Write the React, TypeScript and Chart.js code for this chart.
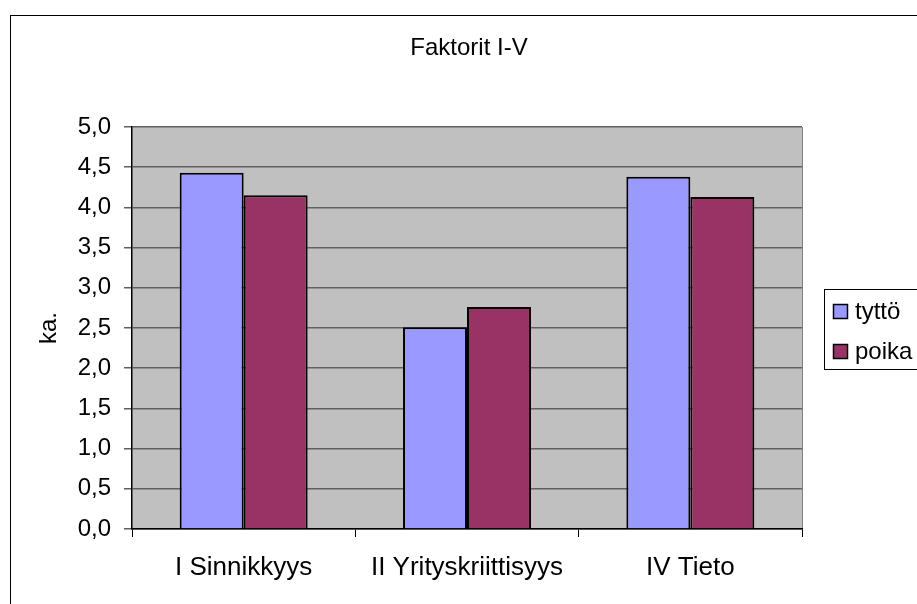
import React, { useEffect, useRef } from "react";
import { Chart, registerables } from "chart.js";

Chart.register(...registerables);

const categories = ["I Sinnikkyys", "II Yrityskriittisyys", "IV Tieto"];
const seriesNames = ["tyttö", "poika"];
const tyttoValues = [4.43, 2.51, 4.38];
const poikaValues = [4.15, 2.76, 4.13];
const seriesColors = ["#9999FF", "#993366"];
const chartTitle = "Faktorit I-V";
const yAxisTitle = "ka.";

const FONT = "'Liberation Sans', Arial, sans-serif";

const decorPlugin = {
  id: "decor",
  beforeDraw(chart: any) {
    const { ctx, chartArea } = chart;
    ctx.save();
    ctx.fillStyle = "#ffffff";
    ctx.fillRect(0, 0, chart.width, chart.height);
    ctx.strokeStyle = "#000000";
    ctx.lineWidth = 1;
    ctx.strokeRect(10.5, 15.5, chart.width + 20, chart.height + 20);
    ctx.fillStyle = "#C0C0C0";
    ctx.fillRect(chartArea.left, chartArea.top, chartArea.right - chartArea.left, chartArea.bottom - chartArea.top);
    ctx.strokeStyle = "#808080";
    ctx.beginPath();
    ctx.moveTo(chartArea.right + 0.5, chartArea.top);
    ctx.lineTo(chartArea.right + 0.5, chartArea.bottom);
    ctx.stroke();
    ctx.restore();
  },
  afterDraw(chart: any) {
    const { ctx } = chart;
    ctx.save();
    // title
    ctx.fillStyle = "#000";
    ctx.font = `24px ${FONT}`;
    ctx.textAlign = "center";
    ctx.textBaseline = "middle";
    ctx.fillText(chartTitle, 469, 48);
    // legend
    ctx.fillStyle = "#fff";
    ctx.fillRect(824.5, 289.5, 200, 80);
    ctx.strokeStyle = "#000";
    ctx.lineWidth = 1;
    ctx.strokeRect(824.5, 289.5, 200, 80);
    chart.data.datasets.forEach((ds: any, i: number) => {
      const y = 304 + i * 40;
      ctx.fillStyle = ds.backgroundColor;
      ctx.fillRect(833, y, 15, 15);
      ctx.strokeStyle = "#000";
      ctx.lineWidth = 1.5;
      ctx.strokeRect(833.5, y + 0.5, 14, 14);
      ctx.fillStyle = "#000";
      ctx.font = `24px ${FONT}`;
      ctx.textAlign = "left";
      ctx.textBaseline = "middle";
      ctx.fillText(ds.label, 855, y + 8);
    });
    ctx.restore();
  },
};

export default function App() {
  const canvasRef = useRef<HTMLCanvasElement | null>(null);

  useEffect(() => {
    if (!canvasRef.current) return;
    const chart = new Chart(canvasRef.current, {
      type: "bar",
      data: {
        labels: categories,
        datasets: [
          {
            label: seriesNames[0],
            data: tyttoValues,
            backgroundColor: seriesColors[0],
            borderColor: "#000",
            borderWidth: 2,
            categoryPercentage: 0.573,
            barPercentage: 1,
          },
          {
            label: seriesNames[1],
            data: poikaValues,
            backgroundColor: seriesColors[1],
            borderColor: "#000",
            borderWidth: 2,
            categoryPercentage: 0.573,
            barPercentage: 1,
          },
        ],
      },
      options: {
        responsive: false,
        animation: false,
        devicePixelRatio: 1,
        layout: { padding: { left: 0, top: 127, right: 115, bottom: 0 } },
        plugins: {
          legend: { display: false },
          title: { display: false },
          tooltip: { enabled: false },
        },
        scales: {
          x: {
            offset: true,
            grid: {
              offset: true,
              drawOnChartArea: false,
              drawTicks: true,
              tickLength: 8,
              color: "#000",
            },
            border: { color: "#000", width: 1.5 },
            ticks: {
              color: "#000",
              font: { family: FONT, size: 26 },
              padding: 15,
              maxRotation: 0,
              autoSkip: false,
            },
            afterFit(scale: any) {
              scale.height = 75;
            },
          },
          y: {
            min: 0,
            max: 5,
            grid: {
              color: "#606060",
              tickLength: 8,
              lineWidth: 1.5,
            },
            border: { color: "#000", width: 1.5 },
            ticks: {
              stepSize: 0.5,
              color: "#000",
              font: { family: FONT, size: 24 },
              padding: 13,
              callback: (v: any) => Number(v).toFixed(1).replace(".", ","),
            },
            title: {
              display: true,
              text: yAxisTitle,
              color: "#000",
              font: { family: FONT, size: 24 },
              padding: { top: 35, bottom: 0 },
            },
            afterFit(scale: any) {
              scale.width = 132;
            },
          },
        },
      },
      plugins: [decorPlugin],
    });
    return () => chart.destroy();
  }, []);

  return (
    <div style={{ position: "fixed", left: 0, top: 0, width: 917, height: 604 }}>
      <canvas ref={canvasRef} width={917} height={604} style={{ width: 917, height: 604, display: "block" }} />
    </div>
  );
}
